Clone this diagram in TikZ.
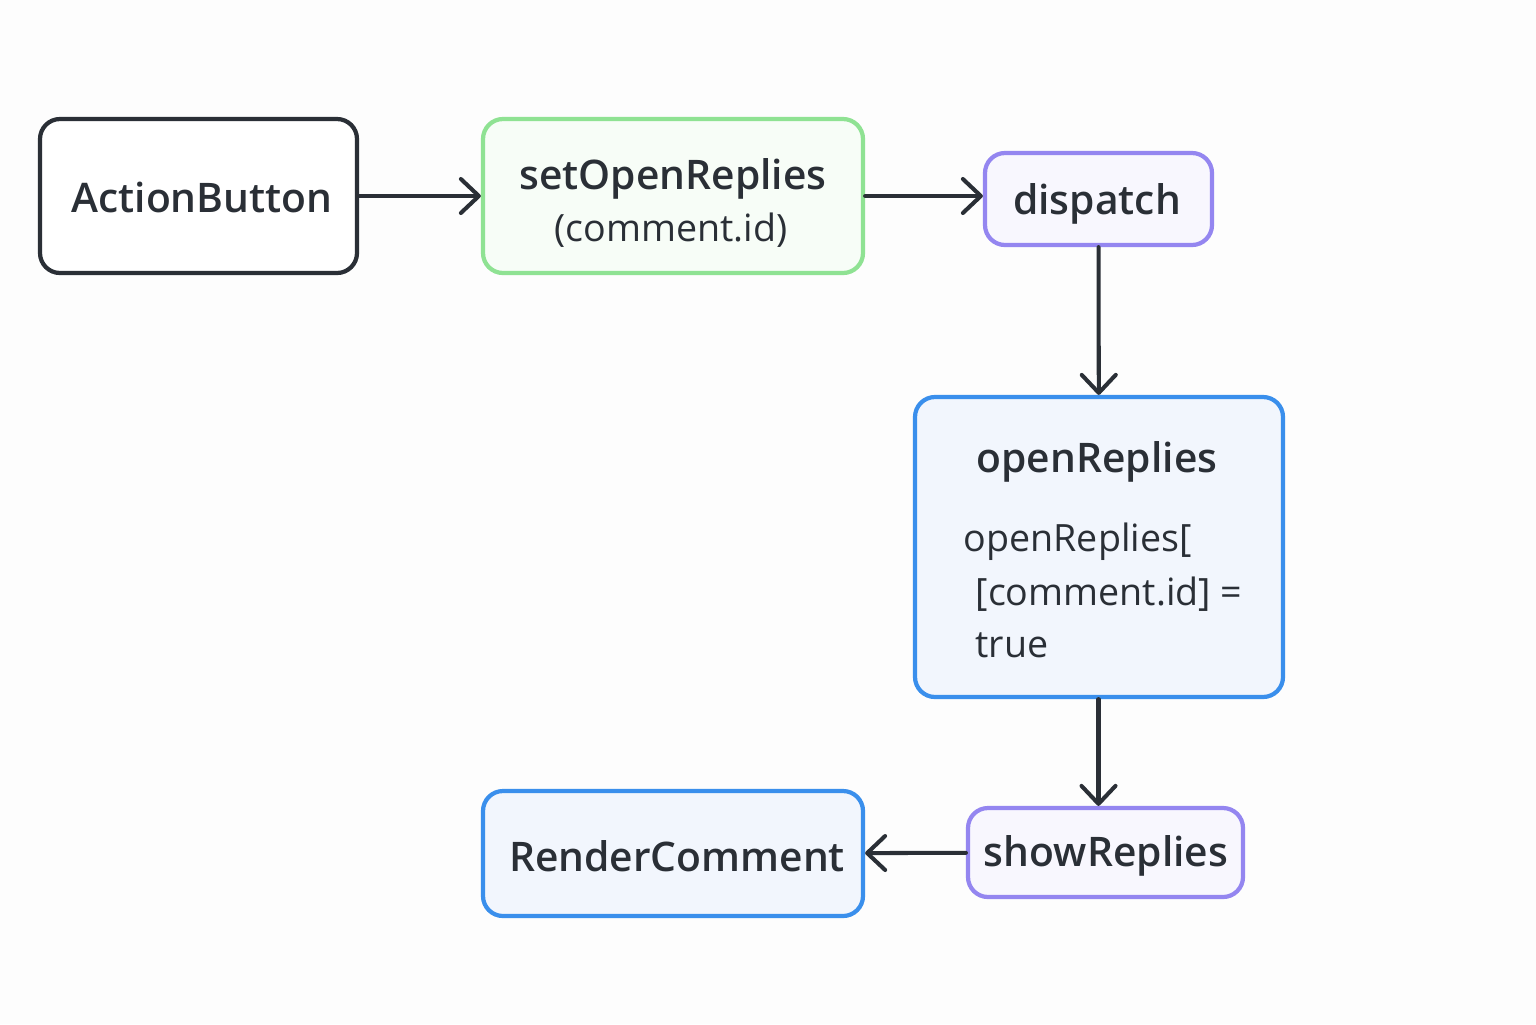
\documentclass[tikz,border=0pt]{standalone}
\usepackage{fontspec}
\setmainfont{Open Sans}[BoldFont={Open Sans Semibold}]
\usepackage{xcolor}
\usepackage{tikz}
\usetikzlibrary{arrows.meta}
\definecolor{bg}{HTML}{FDFDFD}
\definecolor{ink}{HTML}{2A2F36}
\definecolor{greenedge}{HTML}{8FE293}
\definecolor{greenfill}{HTML}{F7FDF7}
\definecolor{violetedge}{HTML}{9486F0}
\definecolor{violetfill}{HTML}{F8F7FE}
\definecolor{blueedge}{HTML}{3A8FEC}
\definecolor{bluefill}{HTML}{F2F6FD}
\tikzset{
  box/.style={rounded corners=0.2cm, line width=1.2pt, inner sep=0pt, align=center, text=ink},
  darkbox/.style={box, draw=ink, fill=white},
  greenbox/.style={box, draw=greenedge, fill=greenfill},
  violetbox/.style={box, draw=violetedge, fill=violetfill},
  bluebox/.style={box, draw=blueedge, fill=bluefill},
  title/.style={font=\fontsize{11.6}{14}\selectfont\bfseries},
  body/.style={font=\fontsize{10.7}{13}\selectfont},
  flow/.style={draw=ink, line width=1.15pt, line cap=round,
    -{Straight Barb[length=1.8mm, width=3.4mm, line width=1.15pt, round]}},
  lab/.style={text=ink, inner sep=0pt}
}
\begin{document}
\begin{tikzpicture}
  \useasboundingbox[fill=bg] (0,0) rectangle (15.36,-10.24);
  % boxes
  \node[darkbox, minimum width=3.17cm, minimum height=1.54cm] (btn) at (1.985,-1.96) {};
  \node[greenbox, minimum width=3.80cm, minimum height=1.54cm] (set) at (6.73,-1.96) {};
  \node[violetbox, minimum width=2.27cm, minimum height=0.92cm] (disp) at (10.985,-1.99) {};
  \node[bluebox, minimum width=3.68cm, minimum height=3.00cm] (open) at (10.99,-5.47) {};
  \node[violetbox, minimum width=2.75cm, minimum height=0.89cm] (show) at (11.055,-8.525) {};
  \node[bluebox, minimum width=3.80cm, minimum height=1.25cm] (render) at (6.73,-8.535) {};
  % texts inside the boxes
  \node[lab, title] (btnT) at (2.02,-1.97) {ActionButton};
  \node[lab, title] (setT) at (6.73,-1.79) {setOpenReplies};
  \node[lab, body] (setB) at (6.71,-2.30) {(comment.id)};
  \node[lab, title] (dispT) at (10.97,-2.04) {dispatch};
  \node[lab, title] (openT) at (10.97,-4.62) {openReplies};
  \node[lab, body, anchor=west] (openB1) at (9.63,-5.42) {openReplies[};
  \node[lab, body, anchor=west] (openB2) at (9.75,-5.94) {[comment.id] =};
  \node[lab, body, anchor=west] (openB3) at (9.75,-6.45) {true};
  \node[lab, title] (showT) at (11.06,-8.56) {showReplies};
  \node[lab, title] (renderT) at (6.77,-8.56) {RenderComment};
  % connectors
  \draw[flow] (btn) -- (set);
  \draw[flow] (set.east |- btn) -- (disp.west |- btn);
  \draw[flow] (disp) -- (open);
  \draw[flow] (open.south -| disp) -- (show.north -| disp);
  \draw[flow] (show) -- (render);
\end{tikzpicture}
\end{document}
